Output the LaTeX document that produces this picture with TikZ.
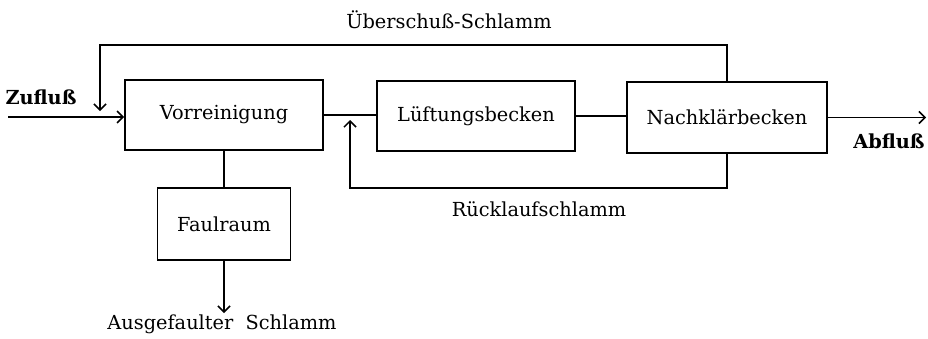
\documentclass[tikz,border=0pt]{standalone}
\usepackage{fontspec}
\setmainfont{DejaVu Serif}
\usetikzlibrary{arrows.meta}
\begin{document}
\begin{tikzpicture}[x=0.75pt,y=-0.75pt,
  box/.style={draw,line width=1.4pt,inner sep=0pt,font=\fontsize{14.5}{17}\selectfont},
  lbl/.style={inner sep=0pt,font=\fontsize{14.5}{17}\selectfont},
  blbl/.style={inner sep=0pt,font=\fontsize{14.5}{17}\selectfont\bfseries},
  conn/.style={line width=1.2pt},
  arr/.style={line width=1.2pt,-{Straight Barb[length=4.5pt,width=9pt,line width=1.1pt]}}]
\useasboundingbox (0,0) rectangle (928,339);
\node[box,minimum width=148.5pt,minimum height=52.5pt] (V) at (224,115) {Vorreinigung};
\node[box,minimum width=99.75pt,minimum height=54pt] (F) at (224,224) {Faulraum};
\node[box,minimum width=148.5pt,minimum height=52.5pt] (L) at (476,116) {Lüftungsbecken};
\node[box,minimum width=150pt,minimum height=53.25pt] (N) at (727,117.5) {Nachklärbecken};
\coordinate (zin) at (8,117);
\coordinate (ut) at (100,45);
\coordinate (ue) at (100,111);
\coordinate (rb) at (350,188);
\coordinate (re) at (350,120);
\coordinate (fo) at (224,313);
\coordinate (out) at (926,117.5);
\draw[arr] (zin) -- (zin -| V.west);
\draw[arr] (N.north) |- (ut) -- (ue);
\draw[conn] (V.east) -- (V.east -| L.west);
\draw[conn] (L.east) -- (L.east -| N.west);
\draw[arr] (N.south) |- (rb) -- (re);
\draw[conn] (V.south) -- (F.north);
\draw[arr] (F.south) -- (fo);
\draw[arr] (N.east) -- (out);
\node[lbl] (ueb) at (449,20) {Überschuß-Schlamm};
\node[lbl] (rue) at (539,209) {Rücklaufschlamm};
\node[blbl] (zu) at (41,97) {Zufluß};
\node[blbl] (ab) at (889,141) {Abfluß};
\node[lbl] (aus) at (222,324) {Ausgefaulter\ \ Schlamm};
\end{tikzpicture}
\end{document}
